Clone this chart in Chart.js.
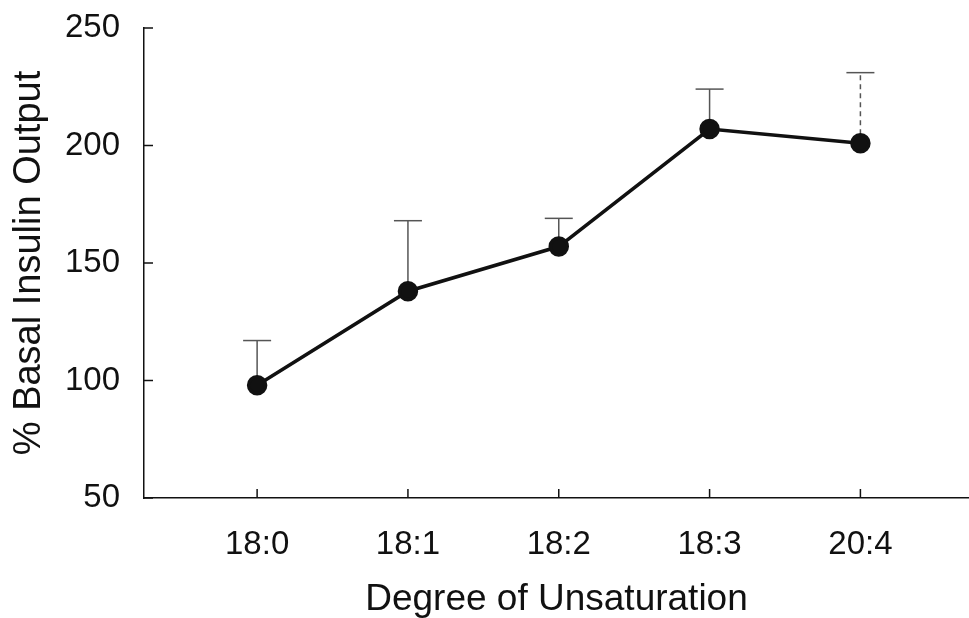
<!DOCTYPE html>
<html>
<head>
<meta charset="utf-8">
<script src="https://cdn.jsdelivr.net/npm/chart.js@4"></script>
<style>
  html, body { margin: 0; padding: 0; background: #fff; overflow: hidden; }
  #wrap { width: 969px; height: 618px; }
</style>
</head>
<body>
<div id="wrap"><canvas id="chart"></canvas></div>
<script>
'use strict';

// data
var categories = ['18:0', '18:1', '18:2', '18:3', '20:4'];
var insulinOutput = [98, 138, 157, 207, 201];
var errorUpper = [117, 168, 169, 224, 231];
var yTicks = [50, 100, 150, 200, 250];

var ink = '#111';
var fontFamily = '"Liberation Sans", Arial, Helvetica, sans-serif';

// upward error bars + inward tick marks, placed through the chart's scales
var errorBars = {
    id: 'errorBars',
    beforeDatasetsDraw: function(chart) {
        var ctx = chart.ctx;
        var x = chart.scales.x, y = chart.scales.y;
        ctx.save();
        ctx.strokeStyle = '#555';
        ctx.lineWidth = 1.5;
        insulinOutput.forEach(function(v, i) {
            var px = x.getPixelForValue(i);
            var py = y.getPixelForValue(v);
            var top = y.getPixelForValue(errorUpper[i]);
            ctx.setLineDash(i === 4 ? [5, 4] : []);
            ctx.beginPath();
            ctx.moveTo(px, py);
            ctx.lineTo(px, top);
            ctx.stroke();
            ctx.setLineDash([]);
            ctx.beginPath();
            ctx.moveTo(px - 14, top);
            ctx.lineTo(px + 14, top);
            ctx.stroke();
        });
        // inward ticks
        ctx.strokeStyle = ink;
        ctx.lineWidth = 1.5;
        yTicks.forEach(function(t) {
            var py = y.getPixelForValue(t);
            ctx.beginPath();
            ctx.moveTo(x.left, py);
            ctx.lineTo(x.left + 9, py);
            ctx.stroke();
        });
        categories.forEach(function(c, i) {
            var px = x.getPixelForValue(i);
            ctx.beginPath();
            ctx.moveTo(px, y.bottom);
            ctx.lineTo(px, y.bottom - 9);
            ctx.stroke();
        });
        ctx.restore();
    }
};

new Chart(document.getElementById('chart'), {
    type: 'line',
    data: {
        datasets: [{
            label: '% Basal Insulin Output',
            data: insulinOutput.map(function(v, i) { return {x: i, y: v}; }),
            borderColor: ink,
            backgroundColor: ink,
            borderWidth: 3.5,
            pointRadius: 8.5,
            pointBackgroundColor: ink,
            pointBorderColor: ink,
            tension: 0
        }]
    },
    options: {
        responsive: true,
        maintainAspectRatio: false,
        animation: false,
        events: [],
        layout: { autoPadding: false, padding: { top: 28, right: 0, left: 0, bottom: 0 } },
        plugins: {
            legend: { display: false },
            tooltip: { enabled: false }
        },
        scales: {
            x: {
                type: 'linear',
                min: -0.75,
                max: 4.72,
                afterBuildTicks: function(scale) {
                    scale.ticks = categories.map(function(c, i) { return {value: i}; });
                },
                afterFit: function(scale) {
                    scale.height = 120;
                    scale.paddingLeft = 0;
                    scale.paddingRight = 0;
                },
                grid: { display: true, drawOnChartArea: false, drawTicks: false },
                border: { display: true, color: ink, width: 1.5 },
                ticks: {
                    color: ink,
                    padding: 27,
                    maxRotation: 0,
                    font: { family: fontFamily, size: 33 },
                    callback: function(v) { return categories[v]; }
                },
                title: {
                    display: true,
                    text: 'Degree of Unsaturation',
                    color: ink,
                    font: { family: fontFamily, size: 37, lineHeight: 1 },
                    padding: { top: 0, bottom: 0 }
                }
            },
            y: {
                min: 50,
                max: 250,
                afterBuildTicks: function(scale) {
                    scale.ticks = yTicks.map(function(t) { return {value: t}; });
                },
                afterFit: function(scale) {
                    scale.width = 144;
                    scale.paddingTop = 0;
                    scale.paddingBottom = 0;
                },
                grid: { display: true, drawOnChartArea: false, drawTicks: false },
                border: { display: true, color: ink, width: 1.5 },
                ticks: {
                    color: ink,
                    padding: 24,
                    font: { family: fontFamily, size: 33 }
                },
                title: {
                    display: true,
                    text: '% Basal Insulin Output',
                    color: ink,
                    font: { family: fontFamily, size: 38, lineHeight: 1 },
                    padding: { top: 11, bottom: 0 }
                }
            }
        }
    },
    plugins: [errorBars]
});
</script>
</body>
</html>
